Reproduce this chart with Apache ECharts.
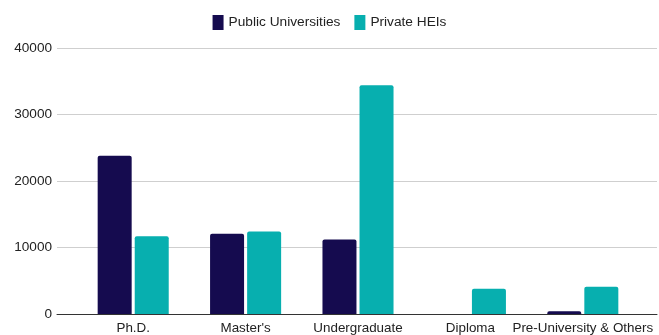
<!DOCTYPE html>
<html>
<head>
<meta charset="utf-8">
<script src="https://cdn.jsdelivr.net/npm/echarts@6/dist/echarts.min.js"></script>
<style>
  html, body { margin: 0; padding: 0; background: #fff; }
  #chart { width: 659px; height: 335px; }
</style>
</head>
<body>
<div id="chart"></div>
<script>
const categories = ['Ph.D.', "Master's", 'Undergraduate', 'Diploma', 'Pre-University & Others'];
const publicUniversities = [23800, 12050, 11200, 0, 400];
const privateHeis = [11700, 12400, 34400, 3800, 4100];
const yTicks = [0, 10000, 20000, 30000, 40000];

const yMax = yTicks[yTicks.length - 1];
const yStep = yTicks[1] - yTicks[0];
const font = 'Arial, "Liberation Sans", sans-serif';

const myChart = echarts.init(document.getElementById('chart'), null, { renderer: 'canvas' });

const option = {
  animation: false,
  color: ['#150b4f', '#07afaf'],
  legend: {
    top: 10,
    left: 'center',
    itemWidth: 11,
    itemHeight: 15,
    itemGap: 14,
    icon: 'rect',
    textStyle: { fontFamily: font, fontSize: 13.7, color: '#222' },
    data: ['Public Universities', 'Private HEIs']
  },
  // grid 0 holds the y labels, gridlines and baseline, grid 1 holds the bars
  grid: [
    { left: 57, right: 2, top: 48, bottom: 21 },
    { left: 77, right: 20, top: 48, bottom: 21 }
  ],
  xAxis: [
    {
      gridIndex: 0,
      type: 'category',
      data: categories,
      axisTick: { show: false },
      axisLabel: { show: false },
      axisLine: { show: true, lineStyle: { color: '#333', width: 1 } }
    },
    {
      gridIndex: 1,
      type: 'category',
      data: categories,
      axisTick: { show: false },
      axisLine: { show: false },
      axisLabel: {
        interval: 0,
        margin: 8,
        fontFamily: font,
        fontSize: 13.4,
        color: '#222'
      }
    }
  ],
  yAxis: [
    {
      gridIndex: 0,
      type: 'value',
      min: 0,
      max: yMax,
      interval: yStep,
      axisLine: { show: false },
      axisTick: { show: false },
      axisLabel: {
        margin: 5,
        fontFamily: font,
        fontSize: 13.6,
        color: '#222',
        formatter(value) {
          return String(value);
        }
      },
      splitLine: { lineStyle: { color: '#cfcfcf', width: 1 } }
    },
    {
      gridIndex: 1,
      type: 'value',
      min: 0,
      max: yMax,
      interval: yStep,
      show: false
    }
  ],
  series: [
    {
      name: 'Public Universities',
      type: 'bar',
      xAxisIndex: 1,
      yAxisIndex: 1,
      barWidth: 34,
      barGap: '9%',
      z: 3,
      itemStyle: { borderRadius: [2, 2, 0, 0] },
      data: publicUniversities
    },
    {
      name: 'Private HEIs',
      type: 'bar',
      xAxisIndex: 1,
      yAxisIndex: 1,
      barWidth: 34,
      barGap: '9%',
      z: 3,
      itemStyle: { borderRadius: [2, 2, 0, 0] },
      data: privateHeis
    }
  ]
};

myChart.setOption(option, true);
</script>
</body>
</html>
